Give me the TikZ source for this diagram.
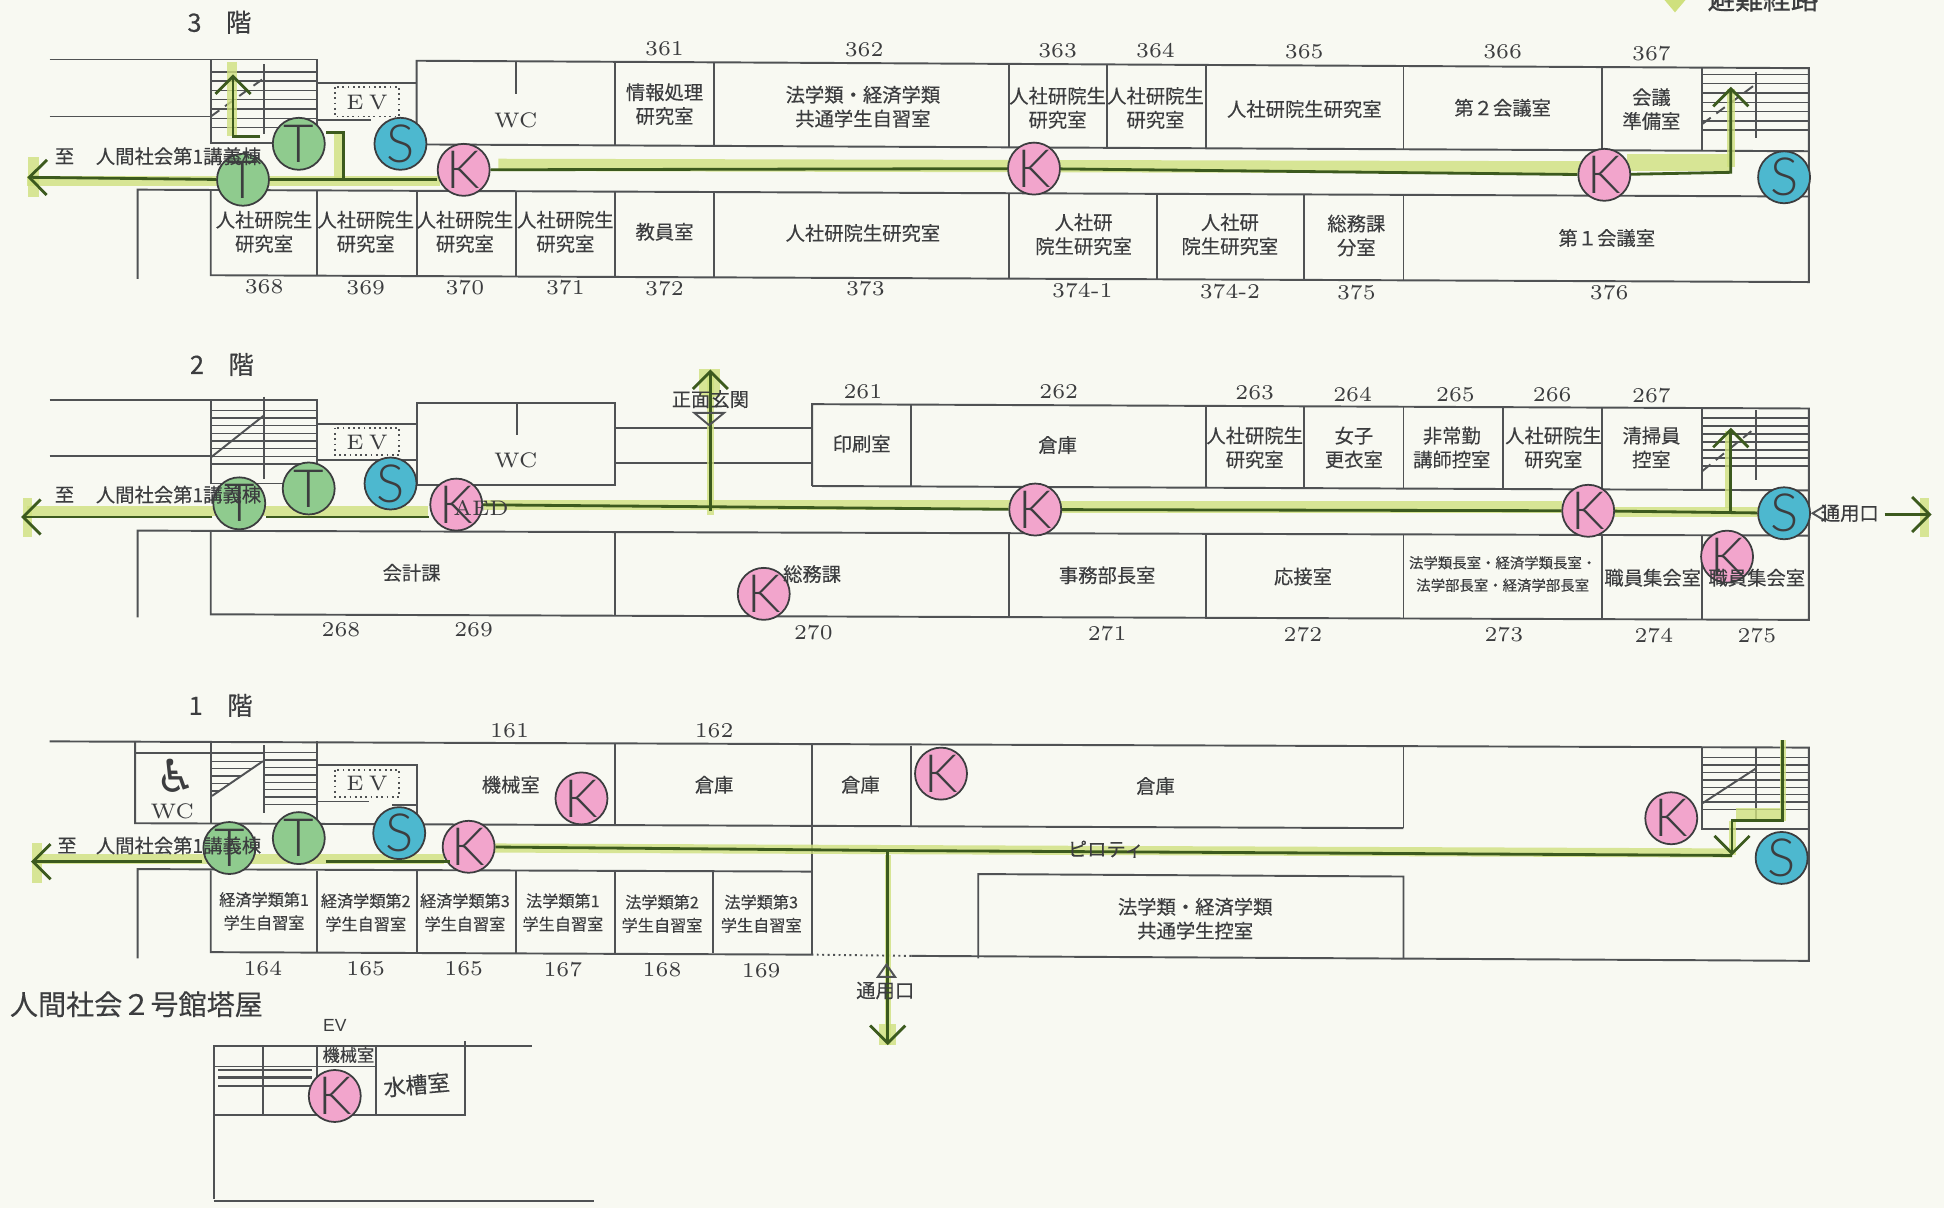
\documentclass[tikz,border=0pt]{standalone}
\usepackage{fontspec}
\newfontfamily\jpfont[FakeBold=0.25]{Noto Sans CJK JP}
\newfontfamily\jpheavy[FakeBold=0.5]{Noto Sans CJK JP}
\newfontfamily\headfont{Liberation Sans}
\newfontfamily\markfont[UprightFont=* Light]{Lato}
\newfontfamily\symfont{DejaVu Sans}
\usetikzlibrary{arrows.meta}

\definecolor{paper}{HTML}{F8F9F2}
\definecolor{wallc}{HTML}{505254}
\definecolor{inkc}{HTML}{3C3D3F}
\definecolor{glowc}{HTML}{CFE07E}
\definecolor{routec}{HTML}{3C5A1E}
\definecolor{kfill}{HTML}{F2A5CC}
\definecolor{sfill}{HTML}{4DB8CF}
\definecolor{tfill}{HTML}{8FCB8E}

\tikzset{
  wall/.style={draw=wallc, line width=0.55pt},
  stairline/.style={draw=wallc, line width=0.4pt},
  glow/.style={draw=glowc, opacity=0.8},
  route/.style={draw=routec, line width=0.8pt},
  exitarrow/.style={route, -{Straight Barb[length=5pt,width=10pt]}},
  roomtext/.style={text=inkc, align=center, inner sep=0pt, font=\jpfont\fontsize{5.5}{6.8}\selectfont},
  roomsmall/.style={roomtext, font=\jpfont\fontsize{4.6}{6.6}\selectfont},
  roomtiny/.style={roomtext, font=\jpfont\fontsize{4.1}{6.4}\selectfont},
  numtext/.style={text=inkc, inner sep=0pt, font=\fontsize{6}{7}\selectfont},
  evtext/.style={text=inkc, inner sep=0pt, font=\fontsize{6}{7}\selectfont},
  headtext/.style={text=inkc, inner sep=0pt, font=\jpheavy\fontsize{7.2}{8}\selectfont},
  evbox/.style={draw=wallc, line width=0.5pt, densely dotted},
  circmark/.style={circle, draw=inkc, line width=0.5pt, minimum size=14.8pt, inner sep=-2pt, text=inkc, font=\markfont\fontsize{15}{15}\selectfont},
  markK/.style={circmark, fill=kfill},
  markS/.style={circmark, fill=sfill},
  markT/.style={circmark, fill=tfill},
}

\begin{document}
\begin{tikzpicture}[x=0.0124cm, y=-0.0124cm]
  \fill[paper] (0,0) rectangle (1568,974);
  \useasboundingbox (0,0) rectangle (1568,974);

  % 3F walls
  \draw[wall] (40,48) -- (256,48) -- (256,115) -- (170,115) -- (170,48);
  \draw[wall] (40,94) -- (170,94);
  \draw[wall] (256,67) -- (336,67);
  \draw[wall] (256,97) -- (299,97);
  \draw[wall] (336,116) -- (336,49) -- (1459,55) -- (1459,227.5) -- (170,222) -- (170,153);
  \draw[wall] (336,116.5) -- (1459,122);
  \draw[wall] (111,225) -- (111,153) -- (1459,158.5);
  \draw[wall] (416,49) -- (416,76);
  \foreach \x/\a/\b in {496/50/117,576/50.3/117.5,814/51.5/119,893/52/119.5,973/52.4/120,1132/53.3/120.5,1292/54/121,1373/54.5/122}
    \draw[wall] (\x,\a) -- (\x,\b);
  \foreach \x/\a/\b in {256/154/222.5,336/154.5/223,416/155/223.5,496/155/224,576/155.5/224,814/156/225,933/156.5/226,1052/157/226.5,1132/157.5/227}
    \draw[wall] (\x,\a) -- (\x,\b);
  \foreach \y in {58,65.5,...,108} \draw[stairline] (170,\y) -- (256,\y);
  \foreach \y in {60,67.5,...,110} \draw[stairline] (1373,\y) -- (1459,\y);
  \draw[wall] (213,52) -- (213,108);
  \draw[wall] (1416,58) -- (1416,111);
  \draw[wall, densely dashed] (170,94) -- (213,63);
  \draw[wall, densely dashed] (1373,100) -- (1416,68);
  \draw[evbox] (270,70) rectangle (322,94);

  % 2F walls
  \draw[wall] (40,323) -- (256,323) -- (256,390) -- (170,390) -- (170,323);
  \draw[wall] (40,368) -- (170,368);
  \draw[wall] (256,342) -- (336,342);
  \draw[wall] (256,371) -- (336,371);
  \draw[wall] (336,325) rectangle (496,391);
  \draw[wall] (417,325) -- (417,351);
  \draw[wall] (496,345) -- (655,345);
  \draw[wall] (496,373.5) -- (655,373.5);
  \draw[wall] (655,392) -- (655,326) -- (1459,329.5) -- (1459,500) -- (170,495.5) -- (170,428);
  \draw[wall] (655,392) -- (1459,395.5);
  \draw[wall] (111,498) -- (111,428) -- (1459,432);
  \foreach \x/\a/\b in {735/326.5/392.5,973/328/393.5,1052/328.3/394,1132/328.6/394,1212/329/394.5,1292/329.2/395,1373/329.5/395.5}
    \draw[wall] (\x,\a) -- (\x,\b);
  \foreach \x/\a/\b in {496/429/496.5,814/430/497.5,973/430.5/498.5,1132/431/499,1292/431.5/499.5,1373/431.5/500}
    \draw[wall] (\x,\a) -- (\x,\b);
  \foreach \y in {331,337.2,...,376} \draw[stairline] (170,\y) -- (256,\y);
  \foreach \y in {337,343.5,...,382} \draw[stairline] (1373,\y) -- (1459,\y);
  \draw[wall] (213,320) -- (213,386);
  \draw[wall] (1416,331) -- (1416,387);
  \draw[wall] (170,369) -- (213,335);
  \draw[wall, densely dashed] (1373,380) -- (1416,345);
  \draw[evbox] (270,345) rectangle (322,367);

  % 1F walls
  \draw[wall] (40,598) -- (1459,603) -- (1459,775) -- (735,771);
  \draw[wall, densely dotted] (735,771) -- (655,770);
  \draw[wall] (655,770) -- (170,768) -- (170,702);
  \draw[wall] (111,773) -- (111,701) -- (655,703);
  \draw[wall] (109,598) -- (109,664) -- (1132,668);
  \draw[wall] (109,607) -- (213,607);
  \draw[wall] (170,598) -- (170,664);
  \draw[wall] (256,598) -- (256,664);
  \draw[wall] (213,601) -- (213,656);
  \draw[wall] (171,642) -- (212,614);
  \foreach \y in {614,620,...,638} \draw[stairline] (170,\y) -- ({171+(642-\y)*1.46},\y);
  \foreach \y in {607,613,...,652} \draw[stairline] (213,\y) -- (256,\y);
  \draw[wall] (256,617) -- (336,617) -- (336,664);
  \draw[wall] (256,646.5) -- (298,646.5);
  \draw[wall] (316,649) -- (336,649);
  \draw[evbox] (270,621) rectangle (322,643);
  \foreach \x/\a/\b in {496/600/665.5,655/601/666.5,735/601.5/667,1132/602/668}
    \draw[wall] (\x,\a) -- (\x,\b);
  \draw[wall] (655,666) -- (655,770);
  \foreach \x in {256,336,416,496,575} \draw[wall] (\x,702.5) -- (\x,769);
  \draw[wall] (789,773) -- (789,705) -- (1132,707) -- (1132,773);
  \draw[wall] (1373,603) -- (1373,669) -- (1459,669);
  \foreach \y in {611,617,...,656} \draw[stairline] (1373,\y) -- (1459,\y);
  \draw[wall] (1416,603) -- (1416,661);
  \draw[wall] (1373,648) -- (1416,620);

  % penthouse walls
  \draw[wall] (172.5,967) -- (172.5,844) -- (429,844);
  \draw[wall] (172.5,969) -- (479,969);
  \draw[wall] (172.5,899) -- (375,899) -- (375,840);
  \draw[wall] (212.5,844) -- (212.5,899);
  \draw[wall] (256,844) -- (256,878);
  \draw[wall] (303,844) -- (303,899);
  \draw[stairline] (172.5,860) -- (303,860);
  \foreach \y in {863,869,876} \draw[wall, line width=0.8pt] (176,\y) -- (251.5,\y);

  % green marker under the routes
  \foreach \a/\b/\c/\d/\w in {402/133/1275/135/3.5,1312/131/1396/131/4.8,22/146/355/146/2.6,
      273/107/273/145/2.8,187/50/187/110/3,1396/72/1396/135/2.4,27/127/27/159/3,
      22/412/345/412/2.8,390/407/815/407/2.8,856/409/1260/409/3.6,1303/413/1418/413/2.6,
      1394/348/1394/410/1.8,573/300/573/415/1.8,572/298/572/320/6,22/402/22/433/2.6,1552/402/1552/433/2.6,
      30/693/358/693/2.8,399/684/1397/688/2.6,716/690/716/843/1.6,716/826/716/843/5,
      1438/597/1438/662/1.6,1400/656/1438/656/3,1397/662/1397/690/2,30/680/30/712/3}
    \draw[glow, line width=\w pt] (\a,\b) -- (\c,\d);
  \fill[glowc] (1340,-3) -- (1351,10) -- (1362,-3) -- cycle;

  % marks
  \foreach \n/\x/\y/\c in {t3a/196/145/T,t3b/241/116/T,s3a/323/116/S,k3a/374/137/K,k3b/834/136/K,k3c/1294/141/K,s3b/1439/143/S,
      t2a/193/406/T,t2b/249/394/T,s2a/315/390/S,k2a/368/407/K,k2b/835/411/K,k2c/1281/412/K,s2b/1439/414/S,k2d/1393/449/K,k2e/616/479/K,
      t1a/185/684/T,t1b/241/676/T,s1a/322/672/S,k1a/378/683/K,k1b/469/644/K,k1c/759/624/K,k1d/1348/660/K,s1b/1437/692/S,
      k0a/270/884/K}
    \node[mark\c] (\n) at (\x,\y) {\c};

  % 3F routes
  \coordinate (exit3) at (22,143);
  \coordinate (turn3) at (1396,139);
  \coordinate (stair3) at (1396,70);
  \coordinate (stair3a) at (188,60);
  \coordinate (stair3b) at (188,110);
  \coordinate (stair3c) at (210,110);
  \coordinate (side3a) at (277,107);
  \coordinate (side3b) at (263,107);
  \draw[exitarrow] (t3a) -- (exit3);
  \draw[route] (t3a) -- (t3a -| k3a.west);
  \draw[route] (k3a) -- (k3b);
  \draw[route] (k3b) -- (k3c);
  \draw[exitarrow] (k3c) -- (turn3) -- (stair3);
  \draw[exitarrow] (stair3c) -- (stair3b) -- (stair3a);
  \draw[route] (side3b) -- (side3a) -- (side3a |- t3a);

  % 2F routes
  \coordinate (exit2) at (17,417);
  \coordinate (door2) at (1558,415);
  \coordinate (door2a) at (1520,415);
  \coordinate (mid2) at (573,412);
  \coordinate (front2) at (573,298);
  \coordinate (stair2a) at (1396,412);
  \coordinate (stair2) at (1396,345);
  \draw[exitarrow] (exit2 -| t2a.west) -- (exit2);
  \draw[route] (exit2 -| t2a.east) -- (exit2 -| k2a.west);
  \draw[route] (k2a) -- (k2b);
  \draw[route] (k2b) -- (k2c);
  \draw[route] (k2c) -- (s2b);
  \draw[exitarrow] (stair2a) -- (stair2);
  \draw[exitarrow] (mid2) -- (front2);
  \draw[exitarrow] (door2a) -- (door2);

  % 1F routes
  \coordinate (exit1) at (25,695);
  \coordinate (mid1) at (716,686);
  \coordinate (door1) at (716,843);
  \coordinate (end1) at (1397,690);
  \coordinate (stair1a) at (1438,597);
  \coordinate (stair1b) at (1438,662);
  \coordinate (stair1c) at (1397,662);
  \draw[exitarrow] (exit1 -| t1a.west) -- (exit1);
  \draw[route] (exit1 -| t1b.east) -- (exit1 -| k1a.south west);
  \draw[route] (k1a) -- (mid1) -- (end1);
  \draw[exitarrow] (mid1) -- (door1);
  \draw[exitarrow] (stair1a) -- (stair1b) -- (stair1c) -- (end1);

  % small door triangles
  \draw[wall] (560,333) -- (584,333) -- (572,343) -- cycle;
  \draw[wall] (1462,414) -- (1472,408) -- (1472,420) -- cycle;
  \draw[wall] (715,778) -- (708,788) -- (722,788) -- cycle;

  % heads
  \node[headtext] (head3) at (177,18) {3\hspace{7pt}階};
  \node[headtext] (head2) at (179,294) {2\hspace{7pt}階};
  \node[headtext] (head1) at (178,569) {1\hspace{7pt}階};
  \node[headtext, font=\jpfont\fontsize{8}{9}\selectfont] (head0) at (110,810) {人間社会２号館塔屋};
  \node[headtext, font=\jpheavy\fontsize{7.9}{9}\selectfont] (legend) at (1422,-1) {避難経路};

  % number labels
  \foreach \t/\x/\y [count=\i] in {361/536/39,362/697/40,363/853/41,364/932/41,365/1052/42,366/1212/42,367/1332/43,
      368/213/231,369/295/232,370/375/232,371/456/232,372/536/233,373/698/233,374-1/873/234,374-2/992/235,375/1094/236,376/1298/236,
      261/696/316,262/854/316,263/1012/317,264/1091/318,265/1174/318,266/1252/318,267/1332/319,
      268/275/508,269/382/508,270/656/510,271/893/511,272/1051/512,273/1213/512,274/1334/513,275/1417/513,
      161/411/589,162/576/589,164/212/781,165/295/781,165/374/781,167/454/782,168/534/782,169/614/783}
    \node[numtext] (num\i) at (\x,\y) {\t};

  % room labels
  \foreach \x/\y/\t [count=\i] in {536/84/{情報処理\\研究室},696/86/{法学類・経済学類\\共通学生自習室},853/87/{人社研院生\\研究室},932/87/{人社研院生\\研究室},
      1052/88/{人社研院生研究室},1212/87/{第２会議室},1332/88/{会議\\準備室},
      213/187/{人社研院生\\研究室},295/187/{人社研院生\\研究室},375/187/{人社研院生\\研究室},456/187/{人社研院生\\研究室},536/187/{教員室},
      696/188/{人社研院生研究室},874/189/{人社研\\院生研究室},992/189/{人社研\\院生研究室},1094/190/{総務課\\分室},1296/192/{第１会議室},
      695/358/{印刷室},853/359/{倉庫},1012/361/{人社研院生\\研究室},1092/361/{女子\\更衣室},1171/361/{非常勤\\講師控室},1253/361/{人社研院生\\研究室},1332/361/{清掃員\\控室},
      332/462/{会計課},655/463/{総務課},893/464/{事務部長室},1051/465/{応接室},1333/466/{職員集会室},1417/466/{職員集会室},
      412/633/{機械室},576/633/{倉庫},694/633/{倉庫},932/634/{倉庫},964/741/{法学類・経済学類\\共通学生控室},
      52/126/{至},144/126/{人間社会第1講義棟},52/399/{至},144/399/{人間社会第1講義棟},54/682/{至},144/682/{人間社会第1講義棟},
      573/322/{正面玄関},1492/414/{通用口},714/799/{通用口},892/685/{ピロティ}}
    \node[roomtext] (room\i) at (\x,\y) {\t};
  \foreach \x/\y/\t [count=\i] in {213/735/{経済学類第1\\学生自習室},295/736/{経済学類第2\\学生自習室},375/736/{経済学類第3\\学生自習室},
      454/736/{法学類第1\\学生自習室},534/737/{法学類第2\\学生自習室},614/737/{法学類第3\\学生自習室}}
    \node[roomsmall] (study\i) at (\x,\y) {\t};
  \node[roomtiny] (dean) at (1212,463) {法学類長室・経済学類長室・\\法学部長室・経済学部長室};

  % other labels
  \foreach \n/\x/\y/\t in {wc3/416/97/WC,wc2/416/371/WC,wc1/139/654/WC,ev3/296/83/{E\hspace{1.5pt}V},ev2/296/357/{E\hspace{1.5pt}V},ev1/296/632/{E\hspace{1.5pt}V},aed/388/410/AED}
    \node[evtext] (\n) at (\x,\y) {\t};
  \node[text=inkc, inner sep=0pt, font=\symfont\fontsize{13}{13}\selectfont] (wheel) at (142,626) {♿};
  \node[text=inkc, inner sep=0pt, font=\headfont\fontsize{5}{6}\selectfont] (evtop) at (270,827) {EV};
  \node[roomtext, font=\jpfont\fontsize{4.9}{6}\selectfont] (machine) at (281,851) {機械室};
  \node[roomtext, rotate=5, font=\jpfont\fontsize{6.3}{7}\selectfont] (tank) at (336,875) {水槽室};
\end{tikzpicture}
\end{document}
